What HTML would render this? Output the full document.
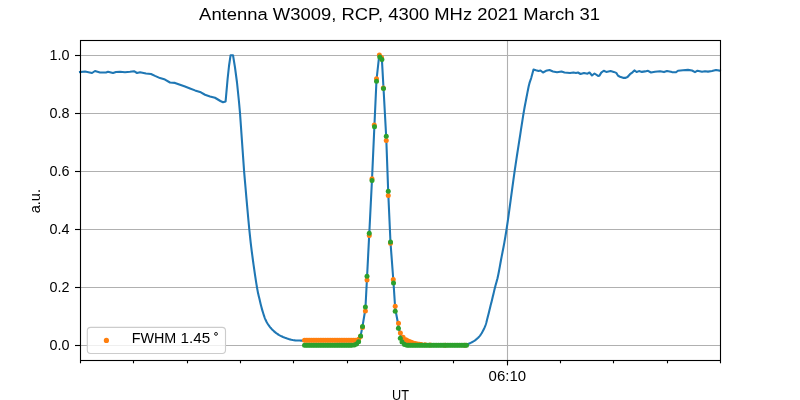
<!DOCTYPE html>
<html><head><meta charset="utf-8"><style>
html,body{margin:0;padding:0;background:#fff;width:800px;height:400px;overflow:hidden;}
svg{display:block;font-family:"Liberation Sans",sans-serif;will-change:transform;}
</style></head><body>
<svg width="800" height="400" viewBox="0 0 800 400">
<rect width="800" height="400" fill="#fff"/>
<g stroke="#b0b0b0" stroke-width="1.11"><line x1="80" x2="720" y1="55.5" y2="55.5"/><line x1="80" x2="720" y1="113.5" y2="113.5"/><line x1="80" x2="720" y1="171.5" y2="171.5"/><line x1="80" x2="720" y1="229.5" y2="229.5"/><line x1="80" x2="720" y1="287.5" y2="287.5"/><line x1="80" x2="720" y1="345.5" y2="345.5"/><line x1="507.5" x2="507.5" y1="40" y2="360"/></g>
<path d="M80.00,72.00 L85.00,71.50 L92.00,73.00 L95.00,71.00 L100.00,72.50 L106.00,72.50 L108.00,71.80 L113.00,73.00 L116.00,72.00 L120.00,71.70 L125.00,72.20 L130.00,71.80 L134.00,71.20 L137.00,73.00 L140.00,72.30 L146.00,73.50 L151.00,74.00 L155.00,75.90 L160.00,78.10 L165.00,79.60 L170.00,82.50 L175.00,82.90 L180.00,84.75 L185.00,86.60 L190.00,88.50 L195.00,90.40 L200.00,91.90 L205.00,94.75 L210.00,96.50 L215.00,97.75 L220.40,101.00 L223.00,102.20 L225.60,101.40 L227.60,79.00 L229.00,66.00 L230.60,55.20 L233.00,55.20 L235.00,67.50 L237.00,82.50 L239.00,102.00 L240.00,113.00 L242.60,150.00 L244.10,171.40 L244.68,178.04 L245.51,187.49 L246.47,198.54 L247.49,210.03 L248.47,220.74 L249.30,229.50 L249.99,236.22 L250.60,241.82 L251.17,246.66 L251.72,251.08 L252.29,255.41 L252.90,260.00 L253.57,264.94 L254.29,269.96 L255.01,274.90 L255.73,279.59 L256.40,283.84 L257.00,287.50 L257.52,290.42 L257.97,292.71 L258.38,294.58 L258.77,296.22 L259.17,297.83 L259.60,299.60 L260.05,301.51 L260.50,303.40 L260.95,305.25 L261.41,307.07 L261.90,308.85 L262.40,310.60 L262.92,312.32 L263.44,314.01 L263.98,315.67 L264.54,317.28 L265.15,318.83 L265.80,320.30 L266.49,321.69 L267.22,323.01 L267.98,324.27 L268.79,325.48 L269.66,326.65 L270.60,327.80 L271.61,328.93 L272.69,330.04 L273.83,331.11 L275.02,332.14 L276.24,333.10 L277.50,334.00 L278.80,334.83 L280.17,335.60 L281.57,336.31 L282.99,336.96 L284.41,337.56 L285.80,338.10 L287.19,338.59 L288.59,339.01 L289.99,339.38 L291.37,339.70 L292.71,339.97 L294.00,340.20 L295.20,340.37 L296.31,340.47 L297.39,340.52 L298.49,340.54 L299.64,340.56 L300.90,340.60 L302.16,340.64 L303.37,340.68 L304.63,340.71 L306.08,340.74 L307.83,340.77 L310.00,340.80 L312.63,340.83 L315.64,340.86 L318.94,340.89 L322.49,340.93 L326.19,340.96 L330.00,341.00 L334.29,341.05 L339.19,341.10 L344.25,341.16 L349.04,341.22 L353.10,341.27 L356.00,341.30 L358.50,340.00 L360.60,336.00 L362.50,326.40 L365.40,309.00 L367.00,278.00 L369.25,234.00 L372.00,179.50 L374.40,126.00 L376.50,80.00 L379.20,55.50 L380.00,56.50 L381.90,59.40 L383.50,88.00 L386.25,138.00 L388.25,193.00 L390.50,242.50 L393.40,281.00 L395.20,308.50 L398.40,325.50 L400.40,335.00 L400.68,335.57 L401.06,336.37 L401.51,337.31 L402.01,338.30 L402.51,339.22 L403.00,340.00 L403.47,340.63 L403.93,341.20 L404.41,341.72 L404.91,342.19 L405.44,342.61 L406.00,343.00 L406.54,343.35 L407.04,343.65 L407.56,343.91 L408.19,344.13 L408.97,344.33 L410.00,344.50 L411.20,344.64 L412.52,344.75 L414.00,344.83 L415.70,344.89 L417.69,344.95 L420.00,345.00 L422.75,345.05 L425.93,345.10 L429.38,345.13 L432.96,345.16 L436.55,345.18 L440.00,345.20 L443.50,345.22 L447.19,345.23 L450.88,345.24 L454.37,345.24 L457.48,345.23 L460.00,345.20 L461.85,345.16 L463.16,345.12 L464.08,345.07 L464.76,345.00 L465.35,344.91 L466.00,344.80 L466.63,344.67 L467.12,344.53 L467.52,344.37 L467.88,344.18 L468.27,343.98 L468.75,343.75 L469.32,343.50 L469.93,343.22 L470.56,342.92 L471.21,342.59 L471.86,342.26 L472.50,341.90 L473.12,341.54 L473.75,341.16 L474.38,340.77 L475.00,340.35 L475.62,339.90 L476.25,339.40 L476.88,338.86 L477.52,338.27 L478.17,337.66 L478.80,337.00 L479.41,336.32 L480.00,335.60 L480.56,334.84 L481.10,334.04 L481.63,333.21 L482.14,332.36 L482.63,331.48 L483.10,330.60 L483.56,329.71 L484.01,328.80 L484.44,327.88 L484.85,326.94 L485.24,325.98 L485.60,325.00 L485.93,324.01 L486.22,323.01 L486.49,321.99 L486.75,320.95 L487.01,319.87 L487.30,318.75 L487.61,317.56 L487.93,316.30 L488.26,315.00 L488.59,313.70 L488.90,312.44 L489.20,311.25 L489.48,310.12 L489.74,309.03 L489.99,307.97 L490.23,306.94 L490.47,305.95 L490.70,305.00 L490.91,304.18 L491.09,303.52 L491.26,302.89 L491.45,302.18 L491.69,301.25 L492.00,300.00 L492.40,298.34 L492.87,296.35 L493.39,294.16 L493.94,291.87 L494.48,289.61 L495.00,287.50 L495.50,285.58 L496.00,283.76 L496.50,281.97 L497.00,280.13 L497.50,278.17 L498.00,276.00 L498.47,273.76 L498.91,271.53 L499.34,269.18 L499.81,266.56 L500.36,263.55 L501.00,260.00 L501.74,256.10 L502.55,252.00 L503.43,247.49 L504.38,242.40 L505.40,236.54 L506.50,229.70 L507.74,221.29 L509.13,211.34 L510.59,200.62 L512.05,189.88 L513.41,179.88 L514.60,171.40 L515.60,164.56 L516.47,158.78 L517.24,153.74 L517.97,149.14 L518.67,144.67 L519.40,140.00 L520.16,135.08 L520.91,130.16 L521.65,125.35 L522.36,120.80 L523.01,116.64 L523.60,113.00 L524.10,110.05 L524.51,107.70 L524.88,105.75 L525.22,103.96 L525.59,102.12 L526.00,100.00 L526.47,97.52 L526.99,94.85 L527.51,92.12 L528.04,89.48 L528.54,87.06 L529.00,85.00 L529.41,83.39 L529.79,82.13 L530.14,81.09 L530.49,80.15 L530.84,79.16 L531.20,78.00 L531.60,76.57 L532.04,74.96 L532.49,73.31 L532.90,71.76 L533.25,70.44 L533.50,69.50 L536.00,70.30 L538.50,71.00 L540.50,70.50 L543.00,72.50 L546.00,70.80 L549.50,70.00 L553.00,71.50 L557.00,72.20 L561.50,71.50 L564.50,72.50 L570.00,73.00 L573.50,72.50 L576.00,73.00 L578.00,72.50 L580.50,74.00 L584.00,73.00 L587.50,73.70 L589.50,72.50 L592.00,75.50 L594.50,73.50 L598.10,75.90 L599.40,75.75 L601.25,72.60 L603.75,70.75 L606.25,71.90 L610.60,71.10 L613.75,71.90 L616.25,72.90 L618.10,75.75 L620.00,76.70 L623.75,77.90 L625.60,77.90 L627.50,77.00 L630.00,74.20 L632.50,72.30 L634.40,70.40 L636.60,72.00 L639.00,71.10 L641.90,71.90 L645.00,71.40 L648.00,70.80 L651.00,72.50 L655.00,71.80 L660.00,71.20 L664.00,72.10 L667.00,71.00 L672.00,72.10 L676.00,72.30 L678.00,70.70 L683.00,70.30 L688.00,69.90 L692.00,70.50 L695.00,72.10 L697.50,70.70 L702.00,71.80 L705.00,71.20 L708.00,71.60 L712.00,71.00 L716.00,70.00 L720.00,70.70" fill="none" stroke="#1f77b4" stroke-width="2.08" stroke-linejoin="round" stroke-linecap="square"/>
<g fill="#ff7f0e"><circle cx="304.50" cy="340.30" r="2.5"/><circle cx="306.25" cy="340.30" r="2.5"/><circle cx="308.00" cy="340.30" r="2.5"/><circle cx="309.75" cy="340.30" r="2.5"/><circle cx="311.50" cy="340.30" r="2.5"/><circle cx="313.25" cy="340.30" r="2.5"/><circle cx="315.00" cy="340.30" r="2.5"/><circle cx="316.75" cy="340.30" r="2.5"/><circle cx="318.50" cy="340.30" r="2.5"/><circle cx="320.25" cy="340.30" r="2.5"/><circle cx="322.00" cy="340.30" r="2.5"/><circle cx="323.75" cy="340.30" r="2.5"/><circle cx="325.50" cy="340.30" r="2.5"/><circle cx="327.25" cy="340.30" r="2.5"/><circle cx="329.00" cy="340.30" r="2.5"/><circle cx="330.75" cy="340.30" r="2.5"/><circle cx="332.50" cy="340.30" r="2.5"/><circle cx="334.25" cy="340.30" r="2.5"/><circle cx="336.00" cy="340.30" r="2.5"/><circle cx="337.75" cy="340.30" r="2.5"/><circle cx="339.50" cy="340.30" r="2.5"/><circle cx="341.25" cy="340.30" r="2.5"/><circle cx="343.00" cy="340.30" r="2.5"/><circle cx="344.75" cy="340.30" r="2.5"/><circle cx="346.50" cy="340.30" r="2.5"/><circle cx="348.25" cy="340.30" r="2.5"/><circle cx="350.00" cy="340.30" r="2.5"/><circle cx="351.75" cy="340.30" r="2.5"/><circle cx="353.50" cy="340.30" r="2.5"/><circle cx="355.25" cy="340.30" r="2.5"/><circle cx="358.60" cy="339.20" r="2.5"/><circle cx="360.50" cy="336.50" r="2.5"/><circle cx="362.50" cy="327.50" r="2.5"/><circle cx="365.40" cy="311.00" r="2.5"/><circle cx="367.00" cy="280.00" r="2.5"/><circle cx="369.25" cy="235.50" r="2.5"/><circle cx="372.00" cy="178.75" r="2.5"/><circle cx="374.25" cy="125.00" r="2.5"/><circle cx="376.50" cy="78.75" r="2.5"/><circle cx="379.40" cy="55.00" r="2.5"/><circle cx="381.50" cy="57.50" r="2.5"/><circle cx="383.30" cy="88.00" r="2.5"/><circle cx="386.25" cy="140.50" r="2.5"/><circle cx="388.25" cy="195.50" r="2.5"/><circle cx="390.50" cy="243.25" r="2.5"/><circle cx="393.25" cy="279.50" r="2.5"/><circle cx="395.20" cy="306.30" r="2.5"/><circle cx="398.50" cy="323.20" r="2.5"/><circle cx="400.40" cy="333.00" r="2.5"/><circle cx="403.10" cy="337.30" r="2.5"/><circle cx="405.90" cy="339.80" r="2.5"/><circle cx="407.60" cy="340.70" r="2.5"/><circle cx="409.40" cy="341.40" r="2.5"/><circle cx="411.20" cy="342.20" r="2.5"/><circle cx="413.10" cy="342.90" r="2.5"/><circle cx="415.30" cy="343.50" r="2.5"/><circle cx="417.50" cy="343.90" r="2.5"/><circle cx="419.40" cy="344.20" r="2.5"/><circle cx="421.25" cy="344.50" r="2.5"/><circle cx="425.00" cy="344.80" r="2.5"/><circle cx="430.00" cy="345.00" r="2.5"/><circle cx="445.00" cy="345.20" r="2.5"/><circle cx="465.00" cy="345.30" r="2.5"/></g>
<g fill="#2ca02c"><circle cx="304.50" cy="345.30" r="2.5"/><circle cx="306.25" cy="345.30" r="2.5"/><circle cx="308.00" cy="345.30" r="2.5"/><circle cx="309.75" cy="345.30" r="2.5"/><circle cx="311.50" cy="345.30" r="2.5"/><circle cx="313.25" cy="345.30" r="2.5"/><circle cx="315.00" cy="345.30" r="2.5"/><circle cx="316.75" cy="345.30" r="2.5"/><circle cx="318.50" cy="345.30" r="2.5"/><circle cx="320.25" cy="345.30" r="2.5"/><circle cx="322.00" cy="345.30" r="2.5"/><circle cx="323.75" cy="345.30" r="2.5"/><circle cx="325.50" cy="345.30" r="2.5"/><circle cx="327.25" cy="345.30" r="2.5"/><circle cx="329.00" cy="345.30" r="2.5"/><circle cx="330.75" cy="345.30" r="2.5"/><circle cx="332.50" cy="345.30" r="2.5"/><circle cx="334.25" cy="345.30" r="2.5"/><circle cx="336.00" cy="345.30" r="2.5"/><circle cx="337.75" cy="345.30" r="2.5"/><circle cx="339.50" cy="345.30" r="2.5"/><circle cx="341.25" cy="345.30" r="2.5"/><circle cx="343.00" cy="345.30" r="2.5"/><circle cx="344.75" cy="345.30" r="2.5"/><circle cx="346.50" cy="345.30" r="2.5"/><circle cx="348.25" cy="345.30" r="2.5"/><circle cx="350.00" cy="345.30" r="2.5"/><circle cx="351.75" cy="345.30" r="2.5"/><circle cx="354.30" cy="345.00" r="2.5"/><circle cx="356.50" cy="344.00" r="2.5"/><circle cx="358.60" cy="341.70" r="2.5"/><circle cx="360.60" cy="336.00" r="2.5"/><circle cx="362.50" cy="326.40" r="2.5"/><circle cx="365.40" cy="307.10" r="2.5"/><circle cx="367.00" cy="276.25" r="2.5"/><circle cx="369.25" cy="233.25" r="2.5"/><circle cx="372.00" cy="180.50" r="2.5"/><circle cx="374.50" cy="126.75" r="2.5"/><circle cx="376.50" cy="81.25" r="2.5"/><circle cx="379.75" cy="56.90" r="2.5"/><circle cx="381.90" cy="59.40" r="2.5"/><circle cx="383.50" cy="88.40" r="2.5"/><circle cx="386.25" cy="136.25" r="2.5"/><circle cx="388.25" cy="191.25" r="2.5"/><circle cx="390.50" cy="242.00" r="2.5"/><circle cx="393.50" cy="283.00" r="2.5"/><circle cx="395.20" cy="311.20" r="2.5"/><circle cx="398.40" cy="328.20" r="2.5"/><circle cx="400.30" cy="338.20" r="2.5"/><circle cx="402.00" cy="342.00" r="2.5"/><circle cx="404.50" cy="344.50" r="2.5"/><circle cx="407.00" cy="345.30" r="2.5"/><circle cx="408.75" cy="345.30" r="2.5"/><circle cx="410.50" cy="345.30" r="2.5"/><circle cx="412.25" cy="345.30" r="2.5"/><circle cx="414.00" cy="345.30" r="2.5"/><circle cx="415.75" cy="345.30" r="2.5"/><circle cx="417.50" cy="345.30" r="2.5"/><circle cx="419.25" cy="345.30" r="2.5"/><circle cx="421.00" cy="345.30" r="2.5"/><circle cx="422.75" cy="345.30" r="2.5"/><circle cx="424.50" cy="345.30" r="2.5"/><circle cx="426.25" cy="345.30" r="2.5"/><circle cx="428.00" cy="345.30" r="2.5"/><circle cx="429.75" cy="345.30" r="2.5"/><circle cx="431.50" cy="345.30" r="2.5"/><circle cx="433.25" cy="345.30" r="2.5"/><circle cx="435.00" cy="345.30" r="2.5"/><circle cx="436.75" cy="345.30" r="2.5"/><circle cx="438.50" cy="345.30" r="2.5"/><circle cx="440.25" cy="345.30" r="2.5"/><circle cx="442.00" cy="345.30" r="2.5"/><circle cx="443.75" cy="345.30" r="2.5"/><circle cx="445.50" cy="345.30" r="2.5"/><circle cx="447.25" cy="345.30" r="2.5"/><circle cx="449.00" cy="345.30" r="2.5"/><circle cx="450.75" cy="345.30" r="2.5"/><circle cx="452.50" cy="345.30" r="2.5"/><circle cx="454.25" cy="345.30" r="2.5"/><circle cx="456.00" cy="345.30" r="2.5"/><circle cx="457.75" cy="345.30" r="2.5"/><circle cx="459.50" cy="345.30" r="2.5"/><circle cx="461.25" cy="345.30" r="2.5"/><circle cx="463.00" cy="345.30" r="2.5"/><circle cx="464.75" cy="345.30" r="2.5"/><circle cx="466.50" cy="345.30" r="2.5"/></g>
<rect x="80.5" y="40.5" width="640" height="320" fill="none" stroke="#000" stroke-width="1.11"/>
<g stroke="#000" stroke-width="1.11"><line x1="75" x2="80.5" y1="55.5" y2="55.5"/><line x1="75" x2="80.5" y1="113.5" y2="113.5"/><line x1="75" x2="80.5" y1="171.5" y2="171.5"/><line x1="75" x2="80.5" y1="229.5" y2="229.5"/><line x1="75" x2="80.5" y1="287.5" y2="287.5"/><line x1="75" x2="80.5" y1="345.5" y2="345.5"/><line x1="80.5" x2="80.5" y1="360.5" y2="363.3"/><line x1="133.5" x2="133.5" y1="360.5" y2="363.3"/><line x1="187.5" x2="187.5" y1="360.5" y2="363.3"/><line x1="240.5" x2="240.5" y1="360.5" y2="363.3"/><line x1="293.5" x2="293.5" y1="360.5" y2="363.3"/><line x1="347.5" x2="347.5" y1="360.5" y2="363.3"/><line x1="400.5" x2="400.5" y1="360.5" y2="363.3"/><line x1="453.5" x2="453.5" y1="360.5" y2="363.3"/><line x1="507.5" x2="507.5" y1="360.5" y2="363.3"/><line x1="560.5" x2="560.5" y1="360.5" y2="363.3"/><line x1="613.5" x2="613.5" y1="360.5" y2="363.3"/><line x1="667.5" x2="667.5" y1="360.5" y2="363.3"/><line x1="720.5" x2="720.5" y1="360.5" y2="363.3"/><line x1="507.5" x2="507.5" y1="360.5" y2="365.4"/></g>
<rect x="87.3" y="327.4" width="138.2" height="26.1" rx="3.4" fill="#fff" fill-opacity="0.8" stroke="#cccccc" stroke-width="1.11"/>
<circle cx="106.4" cy="340.4" r="2.6" fill="#ff7f0e"/>
<text x="131.7" y="343" font-family="Liberation Sans, sans-serif" font-size="14.4" textLength="44.6" lengthAdjust="spacingAndGlyphs" fill="#000">FWHM</text>
<text x="180.6" y="343" font-family="Liberation Sans, sans-serif" font-size="14.4" textLength="29.6" lengthAdjust="spacingAndGlyphs" fill="#000">1.45</text>
<circle cx="216" cy="333.9" r="1.45" fill="none" stroke="#222" stroke-width="1"/>
<text x="69.4" y="60.4" font-family="Liberation Sans, sans-serif" font-size="14.4" text-anchor="end" fill="#000">1.0</text>
<text x="69.4" y="118.4" font-family="Liberation Sans, sans-serif" font-size="14.4" text-anchor="end" fill="#000">0.8</text>
<text x="69.4" y="176.4" font-family="Liberation Sans, sans-serif" font-size="14.4" text-anchor="end" fill="#000">0.6</text>
<text x="69.4" y="234.4" font-family="Liberation Sans, sans-serif" font-size="14.4" text-anchor="end" fill="#000">0.4</text>
<text x="69.4" y="292.4" font-family="Liberation Sans, sans-serif" font-size="14.4" text-anchor="end" fill="#000">0.2</text>
<text x="69.4" y="350.4" font-family="Liberation Sans, sans-serif" font-size="14.4" text-anchor="end" fill="#000">0.0</text>
<text x="488.6" y="381" font-family="Liberation Sans, sans-serif" font-size="14.4" textLength="37.5" lengthAdjust="spacingAndGlyphs" fill="#000">06:10</text>
<text x="392" y="400" font-family="Liberation Sans, sans-serif" font-size="14.4" textLength="17" lengthAdjust="spacingAndGlyphs" fill="#000">UT</text>
<text transform="translate(39.8,213.3) rotate(-90)" x="0" y="0" font-family="Liberation Sans, sans-serif" font-size="14.4" textLength="24.3" lengthAdjust="spacingAndGlyphs" fill="#000">a.u.</text>
<text x="199.1" y="19.9" font-family="Liberation Sans, sans-serif" font-size="17.4" textLength="401" lengthAdjust="spacingAndGlyphs" fill="#000">Antenna W3009, RCP, 4300 MHz 2021 March 31</text>
</svg>
</body></html>
